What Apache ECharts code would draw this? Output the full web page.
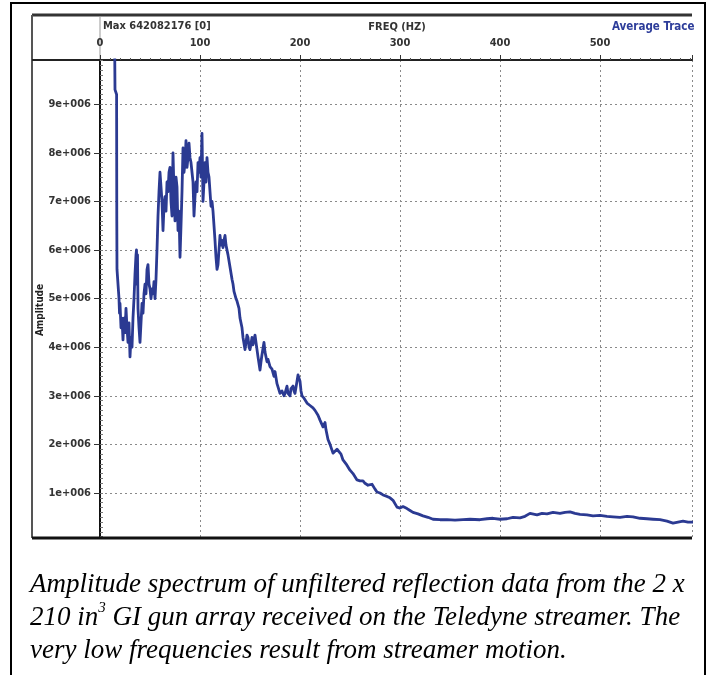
<!DOCTYPE html>
<html>
<head>
<meta charset="utf-8">
<script src="https://cdn.jsdelivr.net/npm/echarts@6/dist/echarts.min.js"></script>
<style>
html,body{margin:0;padding:0;background:#fff;}
#chart{width:711px;height:675px;}
</style>
</head>
<body>
<div id="chart"></div>
<script>
// Frequency (Hz) of each sample of the average trace
const freqHz = [14,15,16.6,16.8,17,18,19,19.5,20,21,22,23,24,25,26,27,28,29,30,31,32,33,34,35,36,36.5,37,37.5,38,39,40,41,42,43,44,45,46,47,48,49,50,51,52,53,54,55,56,57,58,59,60,61,62,63,64,65,66,67,68,69,70,71,72,73,74,75,76,77,78,79,80,81,82,83,84,85,86,87,88,89,90,91,92,93,94,95,96,97,98,99,100,101,102,103,104,105,106,107,108,109,110,111,112,113,114,115,116,117,118,119,120,121,122,123,124,125,126,127,128,130,132,133,134,136,137,139,140,142,143,145,146,147,148,149,150,152,153,155,156,157,158,160,161,162,164,165,167,168,170,172,174,175,177,180,182,184,185,187,188,190,191,193,194,195,197,198,199,200,201,202,204,207,210,213,215,218,220,223,225,226,228,230,233,235,237,239,241,243,246,250,253,257,260,263,265,268,270,272,275,277,280,283,287,290,293,297,300,303,307,310,313,318,323,328,333,340,347,355,363,370,380,387,393,400,407,413,420,425,430,437,442,447,453,460,465,470,475,480,487,493,500,507,513,520,527,533,540,547,553,560,567,573,578,583,588,593];
// Amplitude in millions (1e+006)
const ampMillions = [12,9.3,9.2,6.6,5.6,5.3,5.0,4.7,4.9,4.4,4.6,4.15,4.6,4.3,4.8,4.4,4.1,4.5,3.8,4.2,4.0,4.6,5.0,5.5,5.9,6.0,5.3,5.9,4.8,4.4,4.1,4.5,4.9,4.7,5.1,5.3,5.1,5.6,5.7,5.3,5.2,5.0,5.2,5.1,5.35,5.0,5.4,6.0,6.7,7.2,7.6,7.3,7.0,6.4,6.9,7.1,6.8,7.4,7.2,7.6,7.7,7.0,6.7,8.0,7.2,6.6,7.5,7.3,6.4,6.8,5.85,6.5,7.2,8.1,7.6,7.8,8.25,7.7,7.9,8.2,7.9,7.8,7.6,7.4,6.7,7.1,7.4,7.2,7.8,7.6,7.9,7.5,8.4,7.0,7.4,7.8,7.4,7.9,7.6,7.5,7.2,6.9,7.0,6.8,6.5,6.2,5.85,5.6,5.7,6.0,6.3,6.1,6.2,6.05,6.2,6.3,6.1,6.1,5.9,5.65,5.4,5.3,5.15,5.0,4.95,4.8,4.6,4.4,4.2,3.95,4.1,4.25,4.2,4.0,3.95,4.2,4.05,4.25,4.1,3.95,3.8,3.53,3.7,3.85,4.1,3.9,3.7,3.75,3.6,3.55,3.4,3.5,3.25,3.05,3.1,3.0,3.05,3.2,3.05,3.0,3.15,3.2,3.1,3.05,3.3,3.43,3.4,3.3,3.1,3.0,2.95,2.85,2.8,2.75,2.7,2.6,2.5,2.36,2.45,2.3,2.1,2.0,1.82,1.85,1.9,1.9,1.8,1.68,1.6,1.47,1.4,1.27,1.25,1.25,1.2,1.16,1.2,1.18,1.08,1.02,1.0,0.96,0.93,0.9,0.85,0.71,0.69,0.72,0.68,0.64,0.6,0.57,0.53,0.5,0.46,0.45,0.45,0.44,0.45,0.46,0.45,0.47,0.48,0.46,0.47,0.5,0.49,0.52,0.58,0.55,0.58,0.57,0.6,0.58,0.6,0.61,0.58,0.56,0.55,0.53,0.54,0.52,0.51,0.5,0.52,0.51,0.48,0.47,0.46,0.45,0.42,0.38,0.4,0.42,0.4,0.4];
// Tick labels
const xTickLabels = ['0','100','200','300','400','500'];
const yTickValues = [1e6,2e6,3e6,4e6,5e6,6e6,7e6,8e6,9e6];
const yTickLabels = ['1e+006','2e+006','3e+006','4e+006','5e+006','6e+006','7e+006','8e+006','9e+006'];
const headerLeft = 'Max 642082176 [0]';
const headerMid = 'FREQ (HZ)';
const headerRight = 'Average Trace';
const yName = 'Amplitude';

const yMin = 74000, yMax = 9910000;
const minorY = [];
for (let v = 100000; v < yMax; v += 100000) minorY.push(v);

const data = freqHz.map((f, i) => [f, ampMillions[i] * 1e6]);
const labelFont = '"Liberation Sans Narrow", "DejaVu Sans Condensed", sans-serif';

const chart = echarts.init(document.getElementById('chart'), null, {renderer: 'canvas'});
chart.setOption({
  animation: false,
  backgroundColor: '#fff',
  grid: {left: 100, top: 60, width: 592, height: 478, containLabel: false},
  xAxis: {
    type: 'value', position: 'top', min: 0, max: 592, interval: 100,
    axisLine: {show: true, lineStyle: {color: '#222', width: 2}},
    axisTick: {show: true, length: 5, lineStyle: {color: '#333'}},
    minorTick: {show: true, splitNumber: 10, length: 2, lineStyle: {color: '#555'}},
    axisLabel: {
      margin: 11, fontSize: 11, fontWeight: 'bold', fontFamily: labelFont, color: '#333',
      showMaxLabel: false,
      formatter: v => xTickLabels[Math.round(v / 100)] || ''
    },
    splitLine: {show: true, lineStyle: {type: [2, 3], color: '#8a8a8a', width: 1}}
  },
  yAxis: [{
    type: 'value', min: yMin, max: yMax, position: 'left',
    axisLine: {show: true, lineStyle: {color: '#111', width: 2}},
    axisTick: {show: true, length: 6, customValues: yTickValues, lineStyle: {color: '#333'}},
    axisLabel: {
      customValues: yTickValues, margin: 9, fontSize: 11, fontWeight: 'bold',
      fontFamily: labelFont, color: '#333',
      formatter: v => yTickLabels[yTickValues.indexOf(v)] || ''
    },
    splitLine: {show: true, lineStyle: {type: [2, 3], color: '#8a8a8a', width: 1}}
  }, {
    type: 'value', min: yMin, max: yMax, position: 'left', offset: 0,
    axisLine: {show: false},
    axisTick: {show: true, inside: true, length: 3, customValues: minorY, lineStyle: {color: '#777'}},
    axisLabel: {show: false},
    splitLine: {show: false}
  }],
  series: [{
    type: 'line', data: data, showSymbol: false, smooth: false, clip: true,
    lineStyle: {color: '#2b3a92', width: 2.8, join: 'round'},
    z: 5
  }],
  graphic: [
    {type: 'rect', shape: {x: 11, y: 3, width: 694, height: 690}, style: {fill: 'none', stroke: '#000', lineWidth: 2}, silent: true},
    {type: 'line', shape: {x1: 32, y1: 15, x2: 692, y2: 15}, style: {stroke: '#333', lineWidth: 3}},
    {type: 'line', shape: {x1: 32, y1: 15, x2: 32, y2: 538}, style: {stroke: '#555', lineWidth: 2}},
    {type: 'line', shape: {x1: 100, y1: 16, x2: 100, y2: 60}, style: {stroke: '#999', lineWidth: 1}},
    {type: 'line', shape: {x1: 32, y1: 60, x2: 100, y2: 60}, style: {stroke: '#222', lineWidth: 2}},
    {type: 'line', shape: {x1: 32, y1: 538, x2: 692, y2: 538}, style: {stroke: '#111', lineWidth: 3}, z: 10},
    {type: 'text', left: 103, top: 21, style: {text: headerLeft, fontSize: 11, fontWeight: 'bold', fontFamily: labelFont, fill: '#333'}},
    {type: 'text', x: 397, y: 27, style: {text: headerMid, fontSize: 11, fontWeight: 'bold', fontFamily: labelFont, fill: '#333', align: 'center', verticalAlign: 'middle'}},
    {type: 'text', x: 612, y: 27, style: {text: headerRight, fontSize: 11.5, fontWeight: 'bold', fontFamily: labelFont, fill: '#2d3d9a', align: 'left', verticalAlign: 'middle'}},
    {type: 'text', x: 40, y: 310, rotation: Math.PI / 2, style: {text: yName, fontSize: 10, fontWeight: 'bold', fontFamily: labelFont, fill: '#222', align: 'center', verticalAlign: 'middle'}},
    {type: 'text', left: 30, top: 568, style: {
      text: 'Amplitude spectrum of unfiltered reflection data from the 2 x\n{a|210 in}{s|3}{a| GI gun array received on the Teledyne streamer. The}\nvery low frequencies result from streamer motion.',
      fontSize: 27, fontStyle: 'italic', fontFamily: '"Liberation Serif", "Times New Roman", serif', fill: '#000', lineHeight: 33,
      rich: {
        a: {fontSize: 27, fontStyle: 'italic', fontFamily: '"Liberation Serif", serif', fill: '#000', lineHeight: 33},
        s: {fontSize: 15, fontStyle: 'italic', fontFamily: '"Liberation Serif", serif', fill: '#000', lineHeight: 33, verticalAlign: 'top', padding: [0, 0, 10, 0]}
      }
    }}
  ]
});
</script>
</body>
</html>
